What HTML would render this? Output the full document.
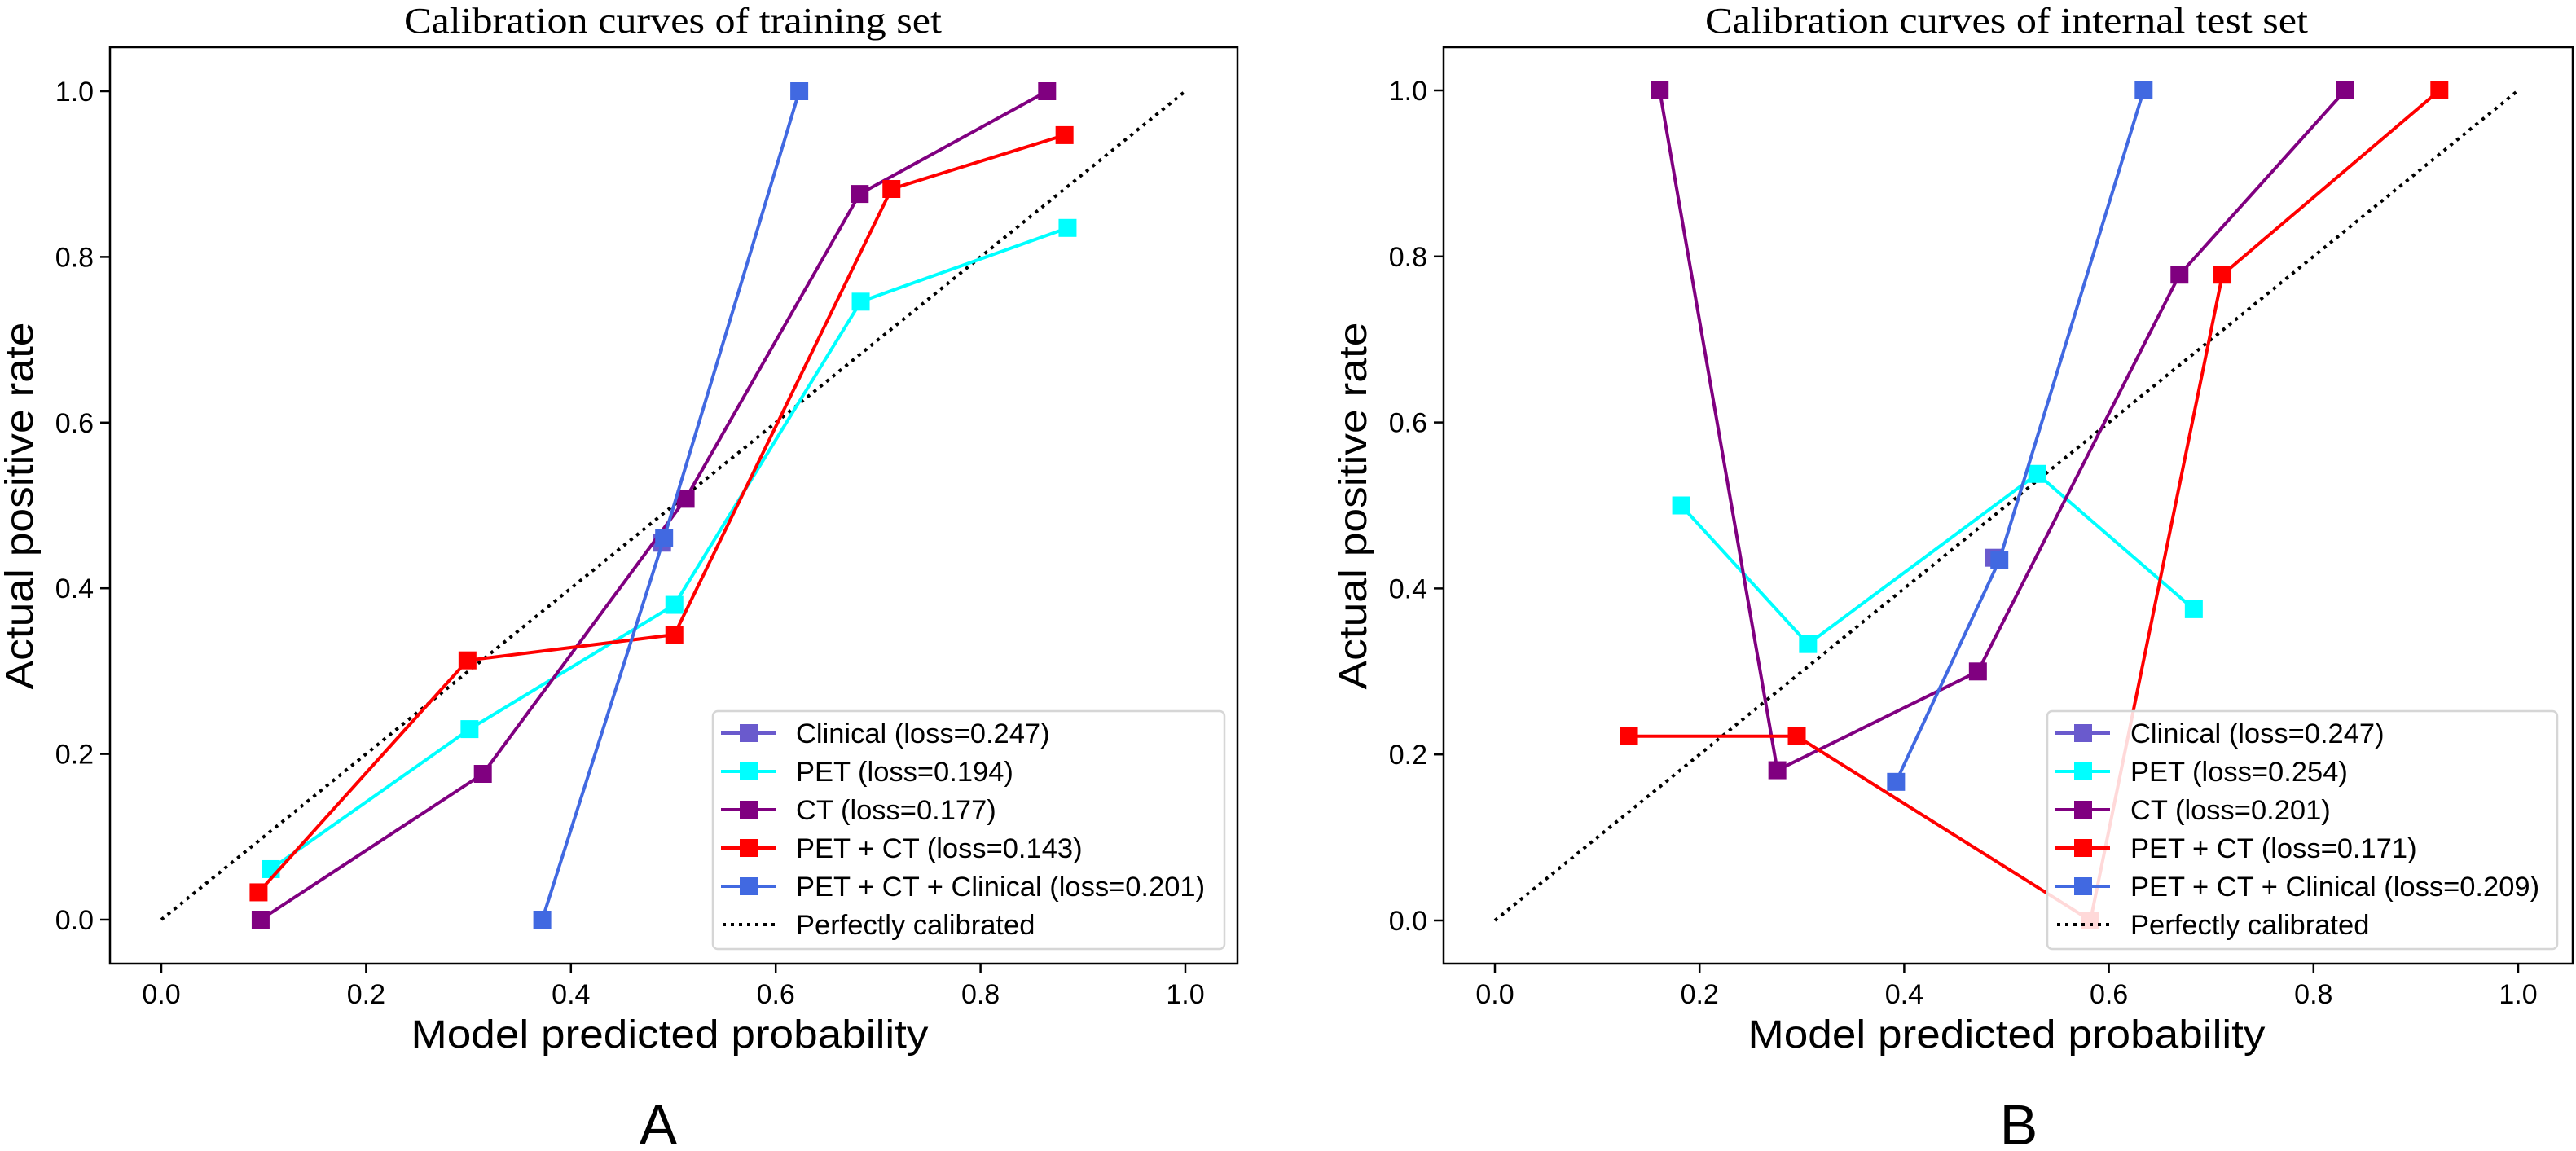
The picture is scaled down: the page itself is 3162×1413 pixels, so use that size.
<!DOCTYPE html>
<html><head><meta charset="utf-8"><style>
html,body{margin:0;padding:0;background:#fff;}
svg{display:block;}
</style></head><body>
<svg id="fig" width="3162" height="1413" viewBox="0 0 3162 1413" xmlns="http://www.w3.org/2000/svg" font-family="'Liberation Sans', 'DejaVu Sans', sans-serif">
<rect x="0" y="0" width="3162" height="1413" fill="#fff"/>
</svg>
<script>
// Panel A (training set)
const seriesNames = ["Clinical", "PET", "CT", "PET + CT", "PET + CT + Clinical"];
const seriesColors = ["#6a5acd", "#00ffff", "#800080", "#ff0000", "#4169e1"];
const xTicks = [0, 0.2, 0.4, 0.6, 0.8, 1.0];
const yTicks = [0, 0.2, 0.4, 0.6, 0.8, 1.0];
const tickLabels = ["0.0", "0.2", "0.4", "0.6", "0.8", "1.0"];

const lossA = ["0.247", "0.194", "0.177", "0.143", "0.201"];
const clinicalAx = [0.489];
const clinicalAy = [0.455];
const petAx = [0.107, 0.301, 0.501, 0.683, 0.885];
const petAy = [0.061, 0.230, 0.380, 0.746, 0.835];
const ctAx = [0.097, 0.314, 0.512, 0.682, 0.865];
const ctAy = [0.0, 0.176, 0.508, 0.876, 1.0];
const petctAx = [0.095, 0.299, 0.501, 0.713, 0.882];
const petctAy = [0.033, 0.313, 0.344, 0.882, 0.947];
const allAx = [0.372, 0.491, 0.623];
const allAy = [0.0, 0.461, 1.0];

// Panel B (internal test set)
const lossB = ["0.247", "0.254", "0.201", "0.171", "0.209"];
const clinicalBx = [0.488];
const clinicalBy = [0.437];
const petBx = [0.182, 0.306, 0.530, 0.683];
const petBy = [0.500, 0.333, 0.538, 0.375];
const ctBx = [0.161, 0.276, 0.472, 0.669, 0.831];
const ctBy = [1.0, 0.181, 0.300, 0.778, 1.0];
const petctBx = [0.131, 0.295, 0.582, 0.711, 0.923];
const petctBy = [0.222, 0.222, 0.0, 0.778, 1.0];
const allBx = [0.392, 0.493, 0.634];
const allBy = [0.167, 0.434, 1.0];

const NS = "http://www.w3.org/2000/svg";
const svg = document.getElementById("fig");
function mk(tag, attrs, parent) {
  const e = document.createElementNS(NS, tag);
  for (const k in attrs) e.setAttribute(k, attrs[k]);
  (parent || svg).appendChild(e);
  return e;
}

function panel(P) {
  const g = mk("g", {});
  
  
  const sx = v => P.x0 + v * (P.x1 - P.x0);
  const sy = v => P.y0 - v * (P.y0 - P.y1);

  const t = mk("text", {x: P.titleX, y: 40, "text-anchor": "middle", "font-family": "'Liberation Serif', serif", "font-size": 44, textLength: P.titleW, lengthAdjust: "spacingAndGlyphs"}, g);
  t.textContent = P.title;
  
  

  xTicks.forEach((v, i) => {
    const tk = mk("line", {x1: sx(v), x2: sx(v), y1: P.bot, y2: P.bot + 12, stroke: "#000", "stroke-width": 2.5}, g);
    
    
    const tl = mk("text", {x: sx(v), y: 1232, "text-anchor": "middle", "font-size": 34}, g);
    tl.textContent = tickLabels[i];
    
    
  });
  yTicks.forEach((v, i) => {
    const tk = mk("line", {x1: P.left - 12, x2: P.left, y1: sy(v), y2: sy(v), stroke: "#000", "stroke-width": 2.5}, g);
    
    
    const tl = mk("text", {x: P.left - 20, y: sy(v) + 12, "text-anchor": "end", "font-size": 34}, g);
    tl.textContent = tickLabels[i];
    
    
  });

  const xl = mk("text", {x: P.xlabX, y: 1286, "text-anchor": "middle", "font-size": 48, textLength: 635, lengthAdjust: "spacingAndGlyphs"}, g);
  xl.textContent = "Model predicted probability";
  
  
  const cy = 621;
  const yl = mk("text", {x: P.ylabX, y: cy, "text-anchor": "middle", "font-size": 48, textLength: 451, lengthAdjust: "spacingAndGlyphs", transform: `rotate(-90 ${P.ylabX} ${cy})`}, g);
  yl.textContent = "Actual positive rate";
  
  

  const pl = mk("text", {x: P.letterX, y: 1405, "text-anchor": "middle", "font-size": 70}, g);
  pl.textContent = P.letter;
  
  

  const diag = mk("line", {x1: sx(0), y1: sy(0), x2: sx(1), y2: sy(1), stroke: "#000", "stroke-width": 4, "stroke-dasharray": "4 6"}, g);
  
  

  P.series.forEach((s, si) => {
    const sg = mk("g", {}, g);
    
    
    const pts = s[0].map((xv, k) => sx(xv) + "," + sy(s[1][k])).join(" ");
    if (s[0].length > 1) {
      const pl2 = mk("polyline", {points: pts, fill: "none", stroke: seriesColors[si], "stroke-width": 4, "stroke-linejoin": "round"}, sg);
      
      
    }
    s[0].forEach((xv, k) => {
      const m = mk("rect", {x: sx(xv) - 11, y: sy(s[1][k]) - 11, width: 22, height: 22, fill: seriesColors[si]}, sg);
      
      
    });
  });

  const fr = mk("rect", {x: P.left, y: P.top, width: P.right - P.left, height: P.bot - P.top, fill: "none", stroke: "#000", "stroke-width": 2.5}, g);
  
  

  const lg = mk("g", {}, g);
  
  
  const lb = mk("rect", {x: P.legX, y: 873, width: P.legW, height: 292, rx: 6, fill: "#fff", "fill-opacity": 0.85, stroke: "#d6d6d6", "stroke-width": 2.5}, lg);
  
  
  const labels = seriesNames.map((n, i) => n + " (loss=" + P.loss[i] + ")").concat(["Perfectly calibrated"]);
  labels.forEach((lab, i) => {
    const ry = 900 + i * 47;
    const e = mk("g", {}, lg);
    
    
    if (i < 5) {
      mk("line", {x1: P.legX + 10, x2: P.legX + 77, y1: ry, y2: ry, stroke: seriesColors[i], "stroke-width": 4}, e);
      mk("rect", {x: P.legX + 33, y: ry - 11, width: 22, height: 22, fill: seriesColors[i]}, e);
    } else {
      mk("line", {x1: P.legX + 12, x2: P.legX + 77, y1: ry, y2: ry, stroke: "#000", "stroke-width": 4, "stroke-dasharray": "4 6"}, e);
    }
    const tx = mk("text", {x: P.legX + 102, y: ry + 12, "font-size": 34.5}, e);
    tx.textContent = lab;
  });
}

panel({name: "panel-a-training", title: "Calibration curves of training set", titleX: 826, titleW: 660,
  left: 135, right: 1519, top: 58, bot: 1183, x0: 198, x1: 1455, y0: 1129, y1: 112,
  xlabX: 822, ylabX: 40, letter: "A", letterX: 808, legX: 875, legW: 628, loss: lossA,
  series: [[clinicalAx, clinicalAy], [petAx, petAy], [ctAx, ctAy], [petctAx, petctAy], [allAx, allAy]]});
panel({name: "panel-b-internal-test", title: "Calibration curves of internal test set", titleX: 2463, titleW: 740,
  left: 1772, right: 3158, top: 58, bot: 1183, x0: 1835, x1: 3091, y0: 1130, y1: 111,
  xlabX: 2463, ylabX: 1677, letter: "B", letterX: 2478, legX: 2513, legW: 626, loss: lossB,
  series: [[clinicalBx, clinicalBy], [petBx, petBy], [ctBx, ctBy], [petctBx, petctBy], [allBx, allBy]]});
</script>
</body></html>
